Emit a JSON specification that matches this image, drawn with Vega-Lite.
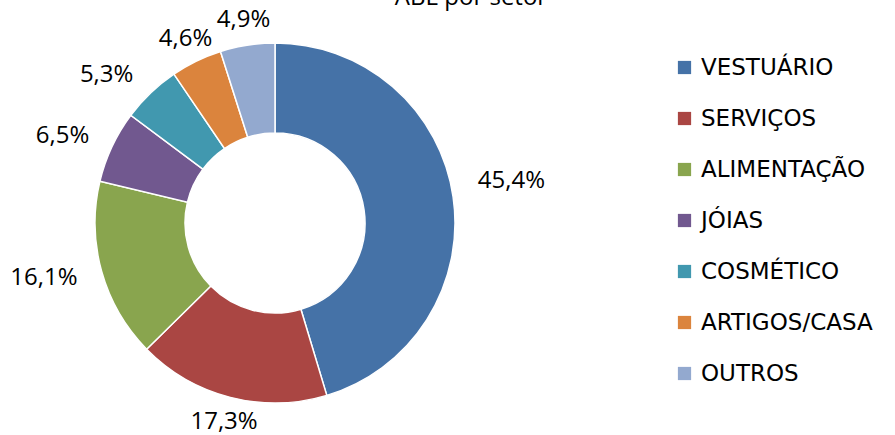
{
  "$schema": "https://vega.github.io/schema/vega-lite/v6.json",
  "autosize": "none",
  "width": 550,
  "height": 424,
  "padding": {"left": 0, "top": 11, "right": 345, "bottom": 0},
  "background": "white",
  "title": {
    "text": "ABL por setor",
    "font": "Open Sans",
    "fontSize": 24,
    "fontWeight": "normal",
    "color": "black",
    "anchor": "middle",
    "frame": "group",
    "dx": 196,
    "dy": 24,
    "offset": 3,
    "baseline": "alphabetic"
  },
  "data": {
    "values": [
      {"setor": "VESTUÁRIO", "valor": 45.4, "rotulo": "45,4%", "ordem": 1},
      {"setor": "SERVIÇOS", "valor": 17.3, "rotulo": "17,3%", "ordem": 2},
      {"setor": "ALIMENTAÇÃO", "valor": 16.1, "rotulo": "16,1%", "ordem": 3},
      {"setor": "JÓIAS", "valor": 6.5, "rotulo": "6,5%", "ordem": 4},
      {"setor": "COSMÉTICO", "valor": 5.3, "rotulo": "5,3%", "ordem": 5},
      {"setor": "ARTIGOS/CASA", "valor": 4.6, "rotulo": "4,6%", "ordem": 6},
      {"setor": "OUTROS", "valor": 4.9, "rotulo": "4,9%", "ordem": 7}
    ]
  },
  "encoding": {
    "theta": {"field": "valor", "type": "quantitative", "stack": true},
    "order": {"field": "ordem", "type": "quantitative"},
    "color": {
      "field": "setor",
      "type": "nominal",
      "sort": null,
      "scale": {
        "domain": ["VESTUÁRIO", "SERVIÇOS", "ALIMENTAÇÃO", "JÓIAS", "COSMÉTICO", "ARTIGOS/CASA", "OUTROS"],
        "range": ["#4572A7", "#AA4643", "#89A54E", "#71588F", "#4198AF", "#DB843D", "#93A9CF"]
      },
      "legend": {
        "title": null,
        "orient": "none",
        "legendX": 673,
        "legendY": 45,
        "padding": 0,
        "symbolType": "square",
        "symbolSize": 175,
        "symbolStrokeWidth": 0,
        "labelFont": "DejaVu Sans",
        "labelFontSize": 23,
        "labelColor": "black",
        "labelOffset": 5,
        "rowPadding": 27,
        "labelLimit": 400
      }
    }
  },
  "layer": [
    {
      "mark": {"type": "arc", "outerRadius": 180, "innerRadius": 90, "stroke": "white", "strokeWidth": 1.5}
    },
    {
      "mark": {
        "type": "text",
        "radius": 205,
        "font": "Open Sans",
        "fontSize": 24,
        "baseline": {"expr": "datum.ordem == 1 ? 'bottom' : 'middle'"},
        "align": {"expr": "datum.ordem == 1 ? 'left' : (datum.ordem >= 3 && datum.ordem <= 5 ? 'right' : 'center')"}
      },
      "encoding": {
        "text": {"field": "rotulo", "type": "nominal"},
        "color": {"value": "black"}
      }
    }
  ]
}
